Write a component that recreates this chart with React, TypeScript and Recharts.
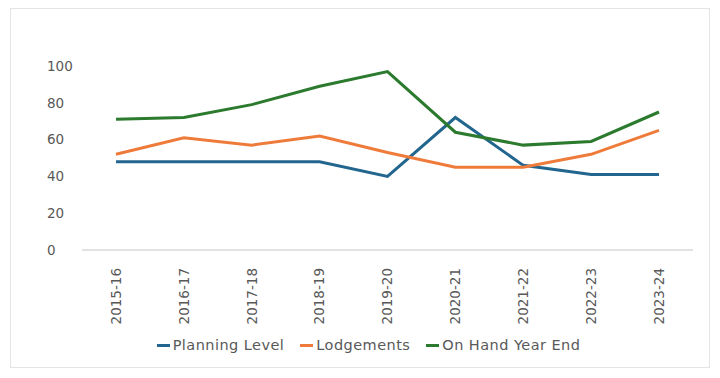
import { LineChart, Line, XAxis, YAxis, Legend } from "recharts";

const years = [
  "2015-16", "2016-17", "2017-18", "2018-19", "2019-20",
  "2020-21", "2021-22", "2022-23", "2023-24",
];
const planningLevel = [48, 48, 48, 48, 40, 72, 46, 41, 41];
const lodgements = [52, 61, 57, 62, 53, 45, 45, 52, 65];
const onHandYearEnd = [71, 72, 79, 89, 97, 64, 57, 59, 75];
const yTicks = [0, 20, 40, 60, 80, 100];

const series = [
  { key: "planning", name: "Planning Level", color: "#22668F" },
  { key: "lodgements", name: "Lodgements", color: "#EF7B3B" },
  { key: "onHand", name: "On Hand Year End", color: "#2B7A2E" },
];

const data = years.map((year, i) => ({
  year,
  planning: planningLevel[i],
  lodgements: lodgements[i],
  onHand: onHandYearEnd[i],
}));

const FONT = "'DejaVu Sans', Verdana, sans-serif";
const TEXT = "#595959";

// rotated category label, reads bottom-to-top
function YearTick({ x, y, payload }: any) {
  const ty = y + 18;
  return (
    <text
      x={x}
      y={ty}
      transform={`rotate(-90, ${x}, ${ty})`}
      textAnchor="end"
      dy="0.36em"
      fontSize={13.5}
      fontFamily={FONT}
      fill={TEXT}
    >
      {payload.value}
    </text>
  );
}

// left aligned value labels
function ValueTick({ y, payload }: any) {
  return (
    <text x={36} y={y} dy="0.36em" textAnchor="start" fontSize={13.5} fontFamily={FONT} fill={TEXT}>
      {payload.value}
    </text>
  );
}

function LegendContent() {
  return (
    <div
      style={{
        display: "flex",
        justifyContent: "center",
        alignItems: "center",
        gap: 16,
        height: 24,
        paddingLeft: 33,
        fontFamily: FONT,
        fontSize: 14.5,
        color: TEXT,
        letterSpacing: 0.45,
      }}
    >
      {series.map((s) => (
        <div key={s.key} style={{ display: "flex", alignItems: "center" }}>
          <span
            style={{
              display: "inline-block",
              width: 13,
              height: 3,
              background: s.color,
              marginRight: 3,
            }}
          />
          <span>{s.name}</span>
        </div>
      ))}
    </div>
  );
}

export default function App() {
  return (
    <div
      style={{
        marginLeft: 2,
        width: 700,
        height: 360,
        boxSizing: "border-box",
        border: "1px solid #e4e4e4",
        background: "#fff",
      }}
    >
      <LineChart
        width={698}
        height={358}
        data={data}
        margin={{ top: 57, right: 16, left: 0, bottom: 10 }}
      >
        <XAxis
          dataKey="year"
          interval={0}
          height={83}
          tickLine={false}
          tickSize={0}
          tickMargin={0}
          axisLine={{ stroke: "#d9d9d9", strokeWidth: 1.5 }}
          padding={{ left: 34, right: 34 }}
          tick={<YearTick />}
        />
        <YAxis
          width={71}
          domain={[0, 100]}
          ticks={yTicks}
          axisLine={false}
          tickLine={false}
          tick={<ValueTick />}
        />
        <Legend verticalAlign="bottom" height={24} content={<LegendContent />} />
        {series.map((s) => (
          <Line
            key={s.key}
            type="linear"
            dataKey={s.key}
            name={s.name}
            stroke={s.color}
            strokeWidth={3}
            dot={false}
            activeDot={false}
            isAnimationActive={false}
          />
        ))}
      </LineChart>
    </div>
  );
}
